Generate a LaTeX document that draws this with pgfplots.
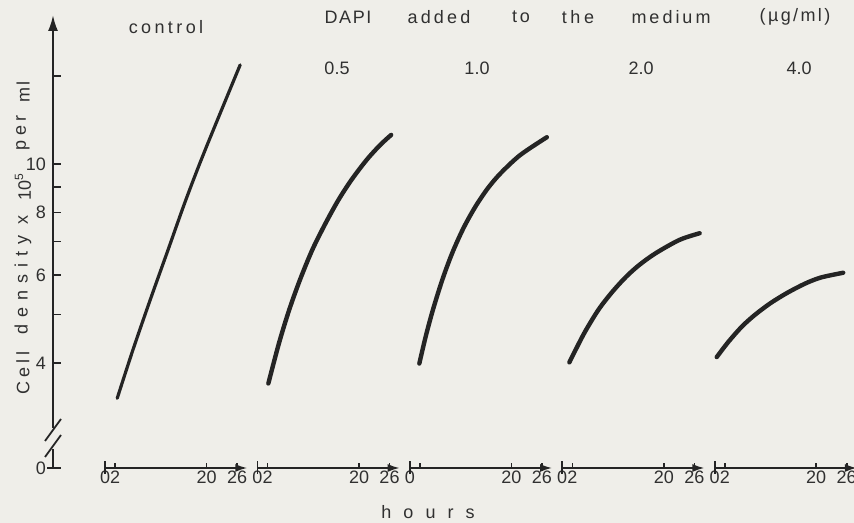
\documentclass[border=0pt]{standalone}
\usepackage{fontspec}
\setmainfont{Liberation Sans}
\usepackage{pgfplots}
\pgfplotsset{compat=1.18}
\usepackage{pgfplotstable}
\usetikzlibrary{arrows.meta}
\definecolor{paper}{HTML}{EFEEE9}
\definecolor{ink}{HTML}{242424}
\definecolor{txt}{HTML}{303030}
\newcommand\fs{\fontsize{9}{10}\selectfont}
\ExplSyntaxOn
\NewDocumentCommand\spread{m m}{\tl_map_inline:nn {#2} {##1\kern#1\relax}\kern-#1\relax}
\ExplSyntaxOff

% cell density (x 10^5 per ml) versus hours, local time of each panel
\pgfplotstableread{
t n
2.4 3.40
5.5 4.25
8.9 5.35
12.4 6.73
15.9 8.47
19.7 10.66
26.6 15.78
}\ctrl
\pgfplotstableread{
t n
2.15 3.64
4.24 4.38
6.26 5.11
8.36 5.86
10.79 6.73
13.41 7.61
15.94 8.47
18.50 9.29
21.50 10.19
24.15 10.91
26.32 11.43
}\dA
\pgfplotstableread{
t n
1.87 3.99
3.13 4.52
4.55 5.11
6.38 5.86
8.33 6.63
10.55 7.44
12.89 8.21
15.35 8.94
17.87 9.58
21.73 10.42
26.97 11.31
}\dB
\pgfplotstableread{
t n
1.40 4.01
4.29 4.58
7.13 5.11
9.86 5.55
12.58 5.95
15.16 6.28
18.39 6.63
23.09 7.05
27.05 7.27
}\dC
\pgfplotstableread{
t n
0.41 4.11
2.72 4.41
5.37 4.73
7.91 4.99
11.02 5.27
14.37 5.53
17.89 5.77
20.96 5.93
25.31 6.06
}\dD

\begin{document}
\begin{tikzpicture}
\useasboundingbox (-26.5pt,-27.5pt) rectangle (400.5pt,234pt);
\fill[paper] (-26.5pt,-27.5pt) rectangle (400.5pt,234pt);
\begin{axis}[
  at={(0,0)}, anchor=south west, scale only axis,
  width=398.5pt, height=226.5pt,
  xmin=-10.24, xmax=146.65, ymin=2.466, ymax=19.86,
  ymode=log, log basis y=10,
  axis y line=left, axis x line=bottom,
  x axis line style={draw=none},
  y axis line style={line width=1.1pt, draw=ink, -{Latex[length=8pt,width=5pt]}},
  xtick={0,2,20,26,30,32,50,56,60,62,80,86,90,92,110,116,120,122,140,146},
  xticklabels={0,2,20,26,0,2,20,26,0,,20,26,0,2,20,26,0,2,20,26},
  major x tick style={draw=none},
  ytick={2.466,4,5,6,7,8,9,10,15},
  yticklabels={0,4,,6,,8,,10,},
  yminorticks=false,
  major y tick style={draw=ink, line width=0.9pt},
  major tick length=4pt, tick align=inside,
  ticklabel style={font=\fs, text=txt},
  xticklabel style={inner sep=1.5pt},
  /pgf/number format/assume math mode=true,
  clip=false,
]
\addplot[ink, line width=1.6pt, smooth, line cap=round] table[x expr=\thisrow{t}+0, y=n]{\ctrl};
\addplot[ink, line width=2.2pt, smooth, line cap=round] table[x expr=\thisrow{t}+30, y=n]{\dA};
\addplot[ink, line width=2.2pt, smooth, line cap=round] table[x expr=\thisrow{t}+60, y=n]{\dB};
\addplot[ink, line width=2.2pt, smooth, line cap=round] table[x expr=\thisrow{t}+90, y=n]{\dC};
\addplot[ink, line width=2.2pt, smooth, line cap=round] table[x expr=\thisrow{t}+120, y=n]{\dD};
% five time axes
\draw[ink, line width=0.9pt, -{Latex[length=6pt,width=4pt]}] (axis cs:0,2.466) -- (axis cs:28,2.466);
\draw[ink, line width=0.9pt, -{Latex[length=6pt,width=4pt]}] (axis cs:30,2.466) -- (axis cs:58,2.466);
\draw[ink, line width=0.9pt, -{Latex[length=6pt,width=4pt]}] (axis cs:60,2.466) -- (axis cs:88,2.466);
\draw[ink, line width=0.9pt, -{Latex[length=6pt,width=4pt]}] (axis cs:90,2.466) -- (axis cs:118,2.466);
\draw[ink, line width=0.9pt, -{Latex[length=6pt,width=4pt]}] (axis cs:120,2.466) -- (axis cs:148,2.466);
\draw[ink, line width=0.9pt] ([yshift=-3pt]axis cs:0,2.466) -- ([yshift=3.5pt]axis cs:0,2.466);
\draw[ink, line width=0.9pt] ([yshift=-3pt]axis cs:30,2.466) -- ([yshift=3.5pt]axis cs:30,2.466);
\draw[ink, line width=0.9pt] ([yshift=-3pt]axis cs:60,2.466) -- ([yshift=3.5pt]axis cs:60,2.466);
\draw[ink, line width=0.9pt] ([yshift=-3pt]axis cs:90,2.466) -- ([yshift=3.5pt]axis cs:90,2.466);
\draw[ink, line width=0.9pt] ([yshift=-3pt]axis cs:120,2.466) -- ([yshift=3.5pt]axis cs:120,2.466);
\draw[ink, line width=0.8pt]
  (axis cs:2,2.466) -- ([yshift=2.5pt]axis cs:2,2.466)
  (axis cs:20,2.466) -- ([yshift=2.5pt]axis cs:20,2.466)
  (axis cs:26,2.466) -- ([yshift=2.5pt]axis cs:26,2.466)
  (axis cs:32,2.466) -- ([yshift=2.5pt]axis cs:32,2.466)
  (axis cs:50,2.466) -- ([yshift=2.5pt]axis cs:50,2.466)
  (axis cs:56,2.466) -- ([yshift=2.5pt]axis cs:56,2.466)
  (axis cs:62,2.466) -- ([yshift=2.5pt]axis cs:62,2.466)
  (axis cs:80,2.466) -- ([yshift=2.5pt]axis cs:80,2.466)
  (axis cs:86,2.466) -- ([yshift=2.5pt]axis cs:86,2.466)
  (axis cs:92,2.466) -- ([yshift=2.5pt]axis cs:92,2.466)
  (axis cs:110,2.466) -- ([yshift=2.5pt]axis cs:110,2.466)
  (axis cs:116,2.466) -- ([yshift=2.5pt]axis cs:116,2.466)
  (axis cs:122,2.466) -- ([yshift=2.5pt]axis cs:122,2.466)
  (axis cs:140,2.466) -- ([yshift=2.5pt]axis cs:140,2.466)
  (axis cs:146,2.466) -- ([yshift=2.5pt]axis cs:146,2.466);
\end{axis}
% axis break and zero tick
\fill[paper] (-2pt,9.5pt) rectangle (2pt,20pt);
\draw[ink, line width=0.9pt] (-4pt,13.5pt) -- (4pt,24.5pt);
\draw[ink, line width=0.9pt] (-4pt,5.5pt) -- (4pt,16.5pt);
\draw[ink, line width=0.9pt] (-3pt,0pt) -- (3.5pt,0pt);
% texts
\begin{scope}[every node/.style={font=\fs, text=txt, inner sep=0pt}]
\node at (56.5pt,220.5pt) {\spread{1.7pt}{control}};
\node at (147.5pt,225.5pt) {\spread{0.8pt}{DAPI}};
\node at (193pt,225.5pt) {\spread{1.6pt}{added}};
\node at (234pt,225.5pt) {\spread{1.5pt}{to}};
\node at (262.5pt,225.5pt) {\spread{1.8pt}{the}};
\node at (309pt,225.5pt) {\spread{1.5pt}{medium}};
\node at (371pt,225.5pt) {\spread{1.2pt}{(µg/ml)}};
\node at (142pt,200pt) {0.5};
\node at (212pt,200pt) {1.0};
\node at (294pt,200pt) {2.0};
\node at (373pt,200pt) {4.0};
\node at (187.5pt,-22pt) {\spread{6pt}{hours}};
\node[rotate=90] at (-15pt,47.5pt) {\spread{2pt}{Cell}};
\node[rotate=90] at (-15pt,91.5pt) {\spread{3.5pt}{density}};
\node[rotate=90] at (-15pt,124pt) {x};
\node[rotate=90] at (-15pt,140.5pt) {10\textsuperscript{5}};
\node[rotate=90] at (-15pt,167.5pt) {\spread{2pt}{per}};
\node[rotate=90] at (-15pt,188pt) {\spread{1pt}{ml}};
\end{scope}
\end{tikzpicture}
\end{document}
